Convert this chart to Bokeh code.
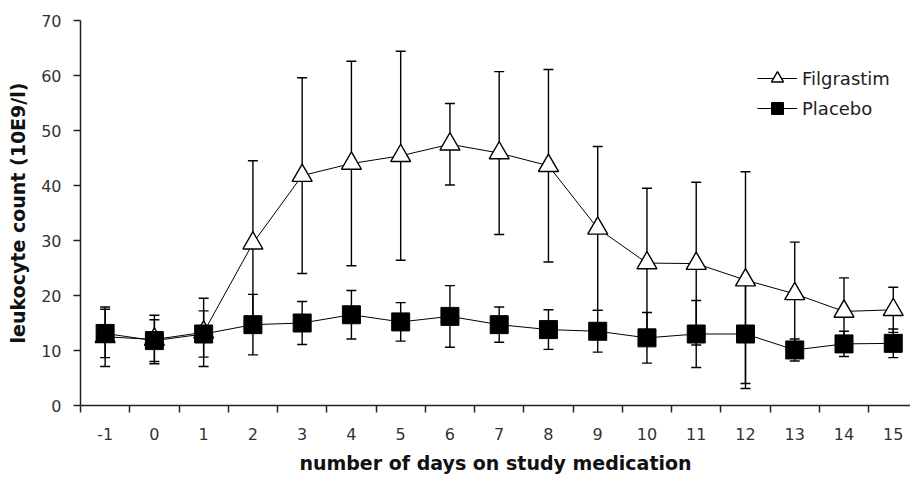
from bokeh.plotting import figure
from bokeh.models import (ColumnDataSource, Range1d, FixedTicker, Whisker, TeeHead,
                          Legend, LegendItem)
from bokeh.embed import file_html
from bokeh.resources import INLINE

# ---- data ----
days = [-1, 0, 1, 2, 3, 4, 5, 6, 7, 8, 9, 10, 11, 12, 13, 14, 15]
day_labels = ["-1", "0", "1", "2", "3", "4", "5", "6", "7", "8", "9", "10", "11", "12", "13", "14", "15"]
filgrastim_mean = [12.5, 12.0, 13.3, 29.5, 41.8, 44.0, 45.4, 47.5, 45.9, 43.6, 32.2, 25.9, 25.8, 22.8, 20.3, 17.1, 17.4]
filgrastim_sd = [5.4, 4.4, 6.2, 15.0, 17.8, 18.6, 19.0, 7.4, 14.8, 17.5, 14.9, 13.6, 14.8, 19.7, 9.4, 6.1, 4.1]
placebo_mean = [13.1, 11.8, 13.0, 14.7, 15.0, 16.5, 15.2, 16.2, 14.7, 13.8, 13.5, 12.3, 13.0, 13.0, 10.1, 11.2, 11.3]
placebo_sd = [4.4, 3.8, 4.2, 5.5, 3.9, 4.4, 3.5, 5.6, 3.2, 3.6, 3.8, 4.6, 6.1, 9.0, 2.0, 2.3, 2.6]
y_ticks = [0, 10, 20, 30, 40, 50, 60, 70]
series_names = ["Filgrastim", "Placebo"]
x_title = "number of days on study medication"
y_title = "leukocyte count (10E9/l)"

src_f = ColumnDataSource(dict(
    x=days, y=filgrastim_mean,
    upper=[m + s for m, s in zip(filgrastim_mean, filgrastim_sd)],
    lower=[m - s for m, s in zip(filgrastim_mean, filgrastim_sd)]))
src_p = ColumnDataSource(dict(
    x=days, y=placebo_mean,
    upper=[m + s for m, s in zip(placebo_mean, placebo_sd)],
    lower=[m - s for m, s in zip(placebo_mean, placebo_sd)]))

p = figure(width=910, height=477,
           x_range=Range1d(days[0] - 0.5, 15.35), y_range=Range1d(0, 70),
           output_backend="svg", toolbar_location=None,
           min_border_left=80, min_border_right=0, min_border_top=20, min_border_bottom=72)
p.outline_line_color = None
p.xgrid.visible = False
p.ygrid.visible = False

# axes
xa = p.xaxis[0]
xa.ticker = FixedTicker(ticks=days, minor_ticks=[d - 0.5 for d in days] + [days[-1] + 0.5])
xa.major_label_overrides = {d: lab for d, lab in zip(days, day_labels)}
xa.major_tick_out = 0
xa.major_tick_in = 0
xa.minor_tick_out = 7
xa.minor_tick_in = 0
xa.minor_tick_line_color = "#222222"
xa.minor_tick_line_width = 1.5
xa.axis_line_color = "#222222"
xa.axis_line_width = 1.5
xa.major_label_text_font = "DejaVu Sans"
xa.major_label_text_font_size = "16px"
xa.major_label_text_color = "#333333"
xa.major_label_standoff = 15
xa.axis_label = x_title
xa.axis_label_text_font = "DejaVu Sans"
xa.axis_label_text_font_style = "bold"
xa.axis_label_text_font_size = "19px"
xa.axis_label_text_color = "#111111"
xa.axis_label_standoff = 9

ya = p.yaxis[0]
ya.ticker = FixedTicker(ticks=y_ticks)
ya.major_tick_out = 7
ya.major_tick_in = 0
ya.minor_tick_out = 0
ya.minor_tick_in = 0
ya.major_tick_line_color = "#222222"
ya.major_tick_line_width = 1.5
ya.axis_line_color = "#222222"
ya.axis_line_width = 1.5
ya.major_label_text_font = "DejaVu Sans"
ya.major_label_text_font_size = "16px"
ya.major_label_text_color = "#333333"
ya.major_label_standoff = 12
ya.axis_label = y_title
ya.axis_label_text_font = "DejaVu Sans"
ya.axis_label_text_font_style = "bold"
ya.axis_label_text_font_size = "19px"
ya.axis_label_text_color = "#111111"
ya.axis_label_standoff = 9

# error bars
for src in (src_f, src_p):
    w = Whisker(base="x", upper="upper", lower="lower", source=src,
                line_color="black", line_width=1.4,
                upper_head=TeeHead(size=10, line_color="black", line_width=1.4),
                lower_head=TeeHead(size=10, line_color="black", line_width=1.4))
    p.add_layout(w)

lf = p.line("x", "y", source=src_f, line_color="black", line_width=1)
lp = p.line("x", "y", source=src_p, line_color="black", line_width=1)
mf = p.scatter("x", "y", source=src_f, marker="triangle", size=20,
               fill_color="white", line_color="black", line_width=1.4)
mp = p.scatter("x", "y", source=src_p, marker="square", size=18,
               fill_color="black", line_color="black", line_width=1)

legend = Legend(items=[LegendItem(label=series_names[0], renderers=[lf, mf]),
                       LegendItem(label=series_names[1], renderers=[lp, mp])],
                location=(677, 282), orientation="vertical",
                glyph_width=40, glyph_height=30, spacing=0, padding=0, margin=0,
                label_standoff=5, label_text_font="DejaVu Sans",
                label_text_font_size="18px", label_text_color="#222222",
                border_line_color=None, background_fill_alpha=0)
p.add_layout(legend)

open("out.html", "w").write(file_html(p, INLINE))
